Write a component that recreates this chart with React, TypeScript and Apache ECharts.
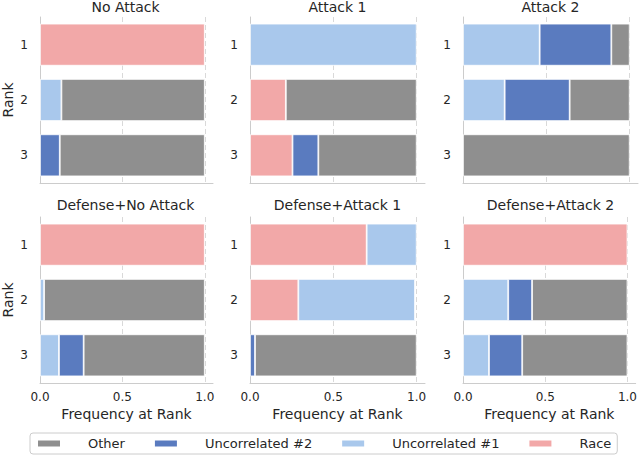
import React, { useEffect, useRef } from "react";
import * as echarts from "echarts";

const panelTitles = [
  "No Attack",
  "Attack 1",
  "Attack 2",
  "Defense+No Attack",
  "Defense+Attack 1",
  "Defense+Attack 2",
];
const ranks = ["1", "2", "3"];
const xTicks = [0, 0.5, 1.0];

// frequency of each feature at rank 1..3, one row per panel
const raceFreq = [
  [1, 0, 0],
  [0, 0.215, 0.255],
  [0, 0, 0],
  [1, 0, 0],
  [0.7, 0.29, 0],
  [1, 0, 0],
];
const uncorr1Freq = [
  [0, 0.13, 0],
  [1, 0, 0],
  [0.46, 0.25, 0],
  [0, 0.025, 0.115],
  [0.3, 0.7, 0],
  [0, 0.275, 0.158],
];
const uncorr2Freq = [
  [0, 0, 0.12],
  [0, 0, 0.155],
  [0.43, 0.39, 0],
  [0, 0, 0.15],
  [0, 0, 0.03],
  [0, 0.145, 0.202],
];
const otherFreq = [
  [0, 0.87, 0.88],
  [0, 0.785, 0.59],
  [0.11, 0.36, 1],
  [0, 0.975, 0.735],
  [0, 0, 0.97],
  [0, 0.58, 0.64],
];

const seriesDefs = [
  { name: "Race", values: raceFreq, color: "#f2a8a8" },
  { name: "Uncorrelated #1", values: uncorr1Freq, color: "#a9c8ec" },
  { name: "Uncorrelated #2", values: uncorr2Freq, color: "#5a7bbf" },
  { name: "Other", values: otherFreq, color: "#8f8f8f" },
];
const legendOrder = ["Other", "Uncorrelated #2", "Uncorrelated #1", "Race"];

const colLefts = [38, 250, 463];
const rowTops = [17, 217];
const gridW = 175;
const gridH = 166;
const textColor = "#262626";

const App: React.FC = () => {
  const chartRef = useRef<HTMLDivElement>(null);

  useEffect(() => {
    document.body.style.margin = "0";
    if (!chartRef.current) return;
    const chart = echarts.init(chartRef.current, null, { renderer: "svg" });

    const grids = panelTitles.map((_, i) => ({
      left: colLefts[i % 3],
      top: rowTops[Math.floor(i / 3)],
      width: gridW,
      height: gridH,
    }));

    const xAxes = panelTitles.map((_, i) => {
      const bottomRow = i >= 3;
      return {
        type: "value",
        gridIndex: i,
        min: 0,
        max: 1.05,
        interval: 0.5,
        name: bottomRow ? "Frequency at Rank" : "",
        nameLocation: "middle",
        nameGap: 24,
        nameTextStyle: { fontSize: 14, color: textColor },
        axisLine: { show: true, lineStyle: { color: "#cccccc", width: 1 } },
        axisTick: { show: false },
        axisLabel: {
          show: bottomRow,
          fontSize: 12,
          color: textColor,
          margin: 8,
          formatter: (v: number) =>
            xTicks.some((t) => Math.abs(t - v) < 1e-6) ? v.toFixed(1) : "",
        },
        splitLine: {
          show: true,
          lineStyle: {
            color: ["#d9d9d9", "#d9d9d9", "#d9d9d9", "rgba(0,0,0,0)"],
            type: [5, 3],
            width: 1,
          },
        },
      };
    });

    const yAxes = panelTitles.map((_, i) => ({
      type: "category",
      gridIndex: i,
      data: ranks,
      inverse: true,
      name: i % 3 === 0 ? "Rank" : "",
      nameLocation: "middle",
      nameGap: 25,
      nameTextStyle: { fontSize: 14, color: textColor },
      axisLine: { show: true, lineStyle: { color: "#cccccc", width: 1 } },
      axisTick: { show: false },
      axisLabel: { fontSize: 12, color: textColor, margin: 12 },
      splitLine: { show: false },
    }));

    const series: any[] = [];
    panelTitles.forEach((_, i) => {
      seriesDefs.forEach((s) => {
        series.push({
          type: "bar",
          name: s.name,
          xAxisIndex: i,
          yAxisIndex: i,
          stack: "panel" + i,
          barWidth: "76%",
          itemStyle: { color: s.color, borderColor: "#ffffff", borderWidth: 0.8 },
          data: s.values[i].map((v) => (v === 0 ? null : v)),
        });
      });
    });

    const titles = panelTitles.map((t, i) => ({
      text: t,
      left: colLefts[i % 3] + gridW / 2,
      top: i < 3 ? 0 : 198,
      textAlign: "center",
      padding: 0,
      textStyle: { fontSize: 14, fontWeight: "normal", color: textColor },
    }));

    chart.setOption({
      animation: false,
      textStyle: { fontFamily: "DejaVu Sans" },
      title: titles,
      grid: grids,
      xAxis: xAxes,
      yAxis: yAxes,
      legend: {
        data: legendOrder.map((n) => ({ name: n, icon: "rect" })),
        left: 30,
        top: 433,
        padding: [4, 6],
        itemWidth: 24,
        itemHeight: 8,
        itemGap: 28,
        borderColor: "#cccccc",
        borderWidth: 1,
        borderRadius: 3,
        textStyle: { fontSize: 13, color: textColor, padding: [0, 0, 0, 22] },
      },
      series,
    });

    return () => chart.dispose();
  }, []);

  return <div ref={chartRef} style={{ width: "640px", height: "458px" }} />;
};

export default App;
